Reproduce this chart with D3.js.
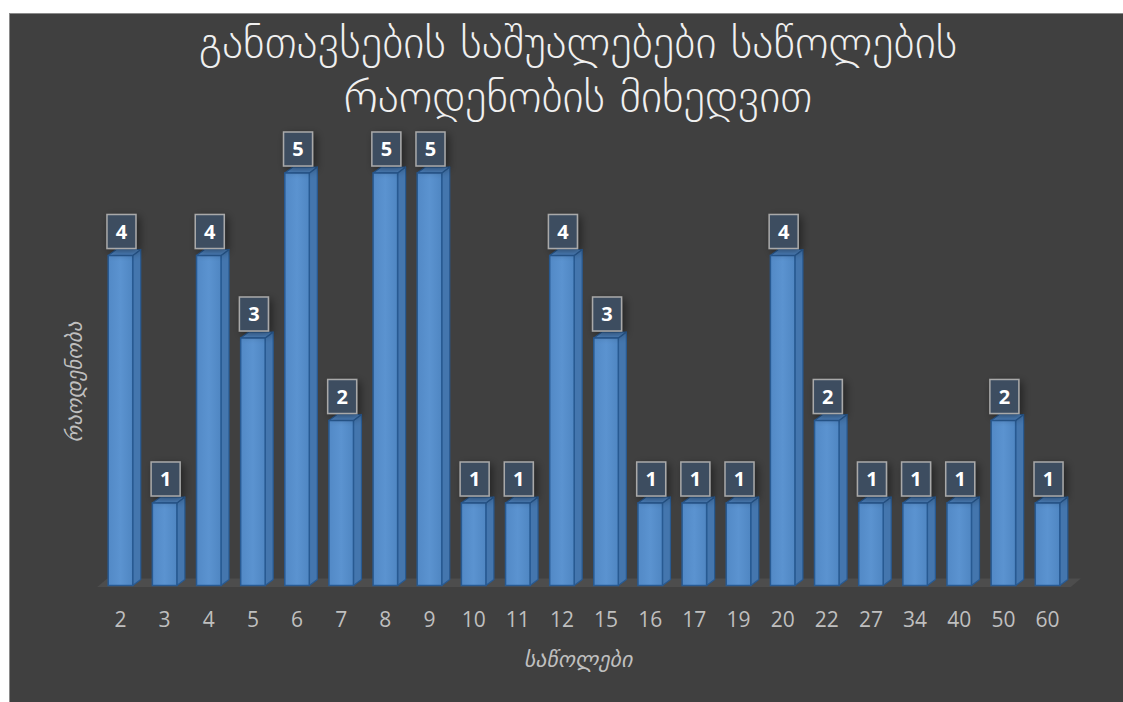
<!DOCTYPE html>
<html>
<head>
<meta charset="utf-8">
<script src="https://cdn.jsdelivr.net/npm/d3@7"></script>
<style>
  html, body { margin: 0; padding: 0; background: #ffffff; }
  svg { display: block; }
</style>
</head>
<body>
<svg id="chart" width="1123" height="702"></svg>
<script>
const categories = ["2","3","4","5","6","7","8","9","10","11","12","15","16","17","19","20","22","27","34","40","50","60"];
const values = [4,1,4,3,5,2,5,5,1,1,4,3,1,1,1,4,2,1,1,1,2,1];
const titleLines = ["განთავსების საშუალებები საწოლების", "რაოდენობის მიხედვით"];
const xTitle = "საწოლები";
const yTitle = "რაოდენობა";

const svg = d3.select("#chart");
const W = 1123, H = 702;

// chart area background
svg.append("rect").attr("x", 9.5).attr("y", 13.5).attr("width", W - 9).attr("height", H - 13)
  .attr("fill", "#404040").attr("stroke", "#8a8a8a").attr("stroke-width", 1);

const defs = svg.append("defs");
const gFront = defs.append("linearGradient").attr("id", "front").attr("x1", 0).attr("x2", 1).attr("y1", 0).attr("y2", 0);
gFront.append("stop").attr("offset", "0%").attr("stop-color", "#5289c6");
gFront.append("stop").attr("offset", "50%").attr("stop-color", "#5b93d0");
gFront.append("stop").attr("offset", "100%").attr("stop-color", "#4f86c2");
const shadow = defs.append("filter").attr("id", "shadow").attr("x", "-50%").attr("y", "-50%").attr("width", "200%").attr("height", "200%");
shadow.append("feGaussianBlur").attr("in", "SourceAlpha").attr("stdDeviation", 4).attr("result", "b");
shadow.append("feOffset").attr("in", "b").attr("dx", 3).attr("dy", 3).attr("result", "o");
shadow.append("feComponentTransfer").attr("in", "o").attr("result", "s")
  .append("feFuncA").attr("type", "linear").attr("slope", 0.45);
const fm = shadow.append("feMerge");
fm.append("feMergeNode").attr("in", "s");
fm.append("feMergeNode").attr("in", "SourceGraphic");

const x = d3.scaleBand().domain(categories).range([98.4, 1069.6]).paddingInner(0.445).paddingOuter(0.2225);
const y = d3.scaleLinear().domain([0, 5]).range([585.5, 173]);
const dx = 8, dy = 6;
const bw = x.bandwidth();
const base = y(0);

// floor
const fx0 = x(categories[0]) - 11, fx1 = x(categories[categories.length - 1]) + bw + 11;
svg.append("path")
  .attr("d", `M${fx0},${base + 1.5} L${fx0 + dx + 2},${base - dy - 1} L${fx1 + dx + 2},${base - dy - 1} L${fx1},${base + 1.5} Z`)
  .attr("fill", "#4d4d4d");

const bars = svg.append("g").selectAll("g").data(categories.map((c, i) => ({c, v: values[i]}))).join("g");

// side
bars.append("path")
  .attr("d", d => { const x0 = x(d.c) + bw, yt = y(d.v);
    return `M${x0},${yt} L${x0 + dx},${yt - dy} L${x0 + dx},${base - dy} L${x0},${base} Z`; })
  .attr("fill", "#4476ae").attr("stroke", "#285a92").attr("stroke-width", 1.2).attr("stroke-linejoin", "round");
// top
bars.append("path")
  .attr("d", d => { const x0 = x(d.c), yt = y(d.v);
    return `M${x0},${yt} L${x0 + dx},${yt - dy} L${x0 + bw + dx},${yt - dy} L${x0 + bw},${yt} Z`; })
  .attr("fill", "#4f85c2").attr("stroke", "#285a92").attr("stroke-width", 1.2).attr("stroke-linejoin", "round");
// front
bars.append("rect")
  .attr("x", d => x(d.c)).attr("y", d => y(d.v))
  .attr("width", bw).attr("height", d => base - y(d.v))
  .attr("fill", "url(#front)").attr("stroke", "#285a92").attr("stroke-width", 1.5);

// labels
const bh = 34, bwBox = 29;
const lab = bars.append("g").attr("transform", d => `translate(${x(d.c) + bw / 2 + 1},${y(d.v) - dy - 1 - bh / 2})`);
lab.append("rect").attr("x", -bwBox / 2).attr("y", -bh / 2).attr("width", bwBox).attr("height", bh)
  .attr("fill", "#3d4d61").attr("stroke", "#a9a9a9").attr("stroke-width", 1.5).attr("filter", "url(#shadow)");
lab.append("text").attr("text-anchor", "middle").attr("dy", "0.36em")
  .attr("fill", "#ffffff").attr("font-family", "'Open Sans', 'Liberation Sans', sans-serif")
  .attr("font-weight", "bold").attr("font-size", 20).text(d => d.v);

// x axis tick labels
const xAxis = d3.axisBottom(x).tickSize(0).tickPadding(0);
const ax = svg.append("g").attr("transform", `translate(0, 0)`).call(xAxis);
ax.select(".domain").remove();
ax.selectAll("text").attr("fill", "#bfbfbf").attr("font-size", 21)
  .attr("font-family", "'Open Sans', 'Liberation Sans', sans-serif")
  .attr("y", 626.5).attr("dy", null);

// axis titles
svg.append("text").attr("x", 578).attr("y", 667).attr("text-anchor", "middle")
  .attr("fill", "#bfbfbf").attr("font-size", 22).attr("font-style", "italic")
  .attr("font-family", "'DejaVu Sans', sans-serif").text(xTitle);
svg.append("text").attr("transform", "translate(82, 382) rotate(-90)").attr("text-anchor", "middle")
  .attr("fill", "#bfbfbf").attr("font-size", 21).attr("font-style", "italic")
  .attr("font-family", "'DejaVu Sans', sans-serif").text(yTitle);

// title
svg.append("g").selectAll("text").data(titleLines).join("text")
  .attr("x", 578).attr("y", (d, i) => 58 + i * 54).attr("text-anchor", "middle")
  .attr("fill", "#f0f0f0").attr("font-size", 45).attr("font-weight", 300)
  .attr("font-family", "'DejaVu Sans', sans-serif").text(d => d);
</script>
</body>
</html>
